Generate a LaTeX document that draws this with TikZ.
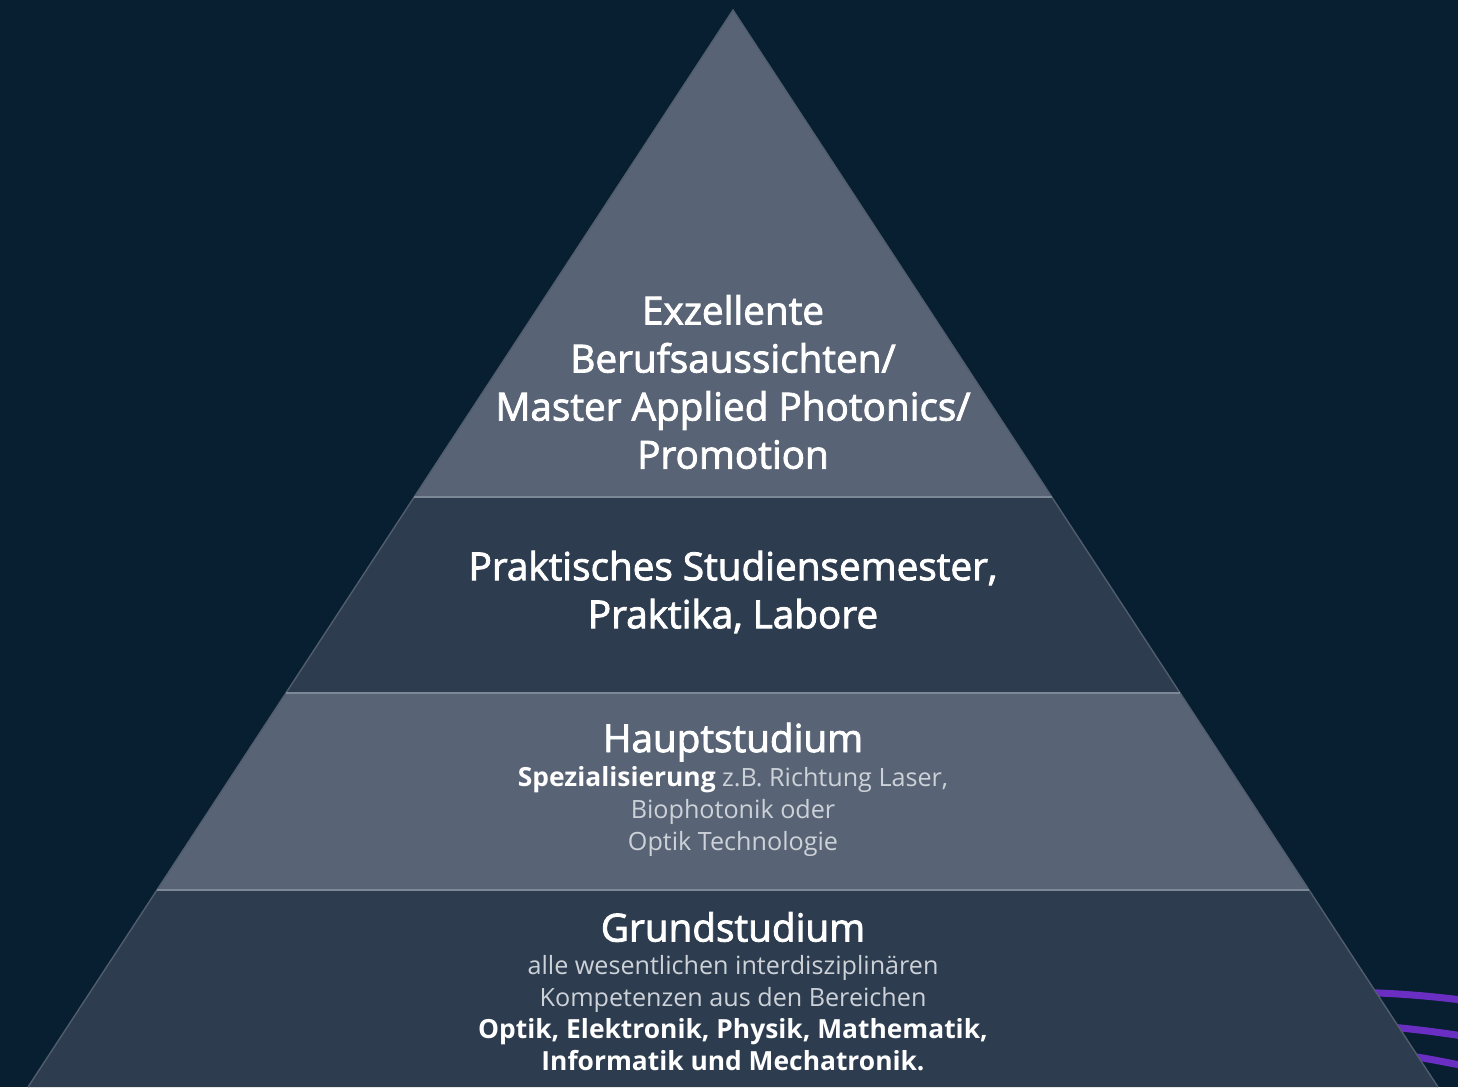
\documentclass[tikz,border=0pt]{standalone}
\usepackage{fontspec}
\setmainfont{Open Sans}
\newfontfamily\semib[FakeBold=2.2]{Open Sans}
\definecolor{bg}{HTML}{081E31}
\definecolor{bandlight}{HTML}{586475}
\definecolor{banddark}{HTML}{2D3C4E}
\definecolor{sepline}{HTML}{7D8896}
\definecolor{edgeline}{HTML}{4F5D6D}
\definecolor{lighttext}{HTML}{CDD2D9}
\definecolor{wave}{HTML}{6A2FC2}
\tikzset{
  band/.style={draw=none},
  head/.style={text=white, font=\semib\fontsize{11}{13.66}\selectfont, align=center, inner sep=0pt},
  bodytext/.style={text=lighttext, font=\fontsize{7.15}{9.1}\selectfont, align=center, inner sep=0pt},
  emph/.style={},
  waveline/.style={wave, line width=2pt},
  sep/.style={sepline, line width=0.4pt}
}
\newcommand{\strongtxt}[1]{{\fontsize{7.5}{9.1}\selectfont\bfseries\color{white}#1}}
\begin{document}
\begin{tikzpicture}[x=0.01cm, y=-0.01cm]
\useasboundingbox (0,0) rectangle (1458,1087);
\fill[bg] (0,0) rectangle (1458,1087);
% purple waves behind pyramid
\draw[waveline] (1330,992) .. controls (1390,992) and (1430,996) .. (1470,1001);
\draw[waveline] (1360,1025) .. controls (1400,1027) and (1430,1031) .. (1470,1037);
\draw[waveline] (1380,1052) .. controls (1410,1055) and (1440,1061) .. (1470,1067);
% bands
\fill[bandlight] (733,10) -- (1052,497) -- (414,497) -- cycle;
\fill[banddark] (414,497) -- (1052,497) -- (1180,693) -- (286,693) -- cycle;
\fill[bandlight] (286,693) -- (1180,693) -- (1309,890) -- (157,890) -- cycle;
\fill[banddark] (157,890) -- (1309,890) -- (1438,1087) -- (28,1087) -- cycle;
\draw[edgeline, line width=0.4pt] (28,1087) -- (733,10) -- (1438,1087);
\draw[sep] (414,497) -- (1052,497);
\draw[sep] (286,693) -- (1180,693);
\draw[sep] (157,890) -- (1309,890);
% texts
\node[head] (top) at (733,382) {Exzellente\\Berufsaussichten/\\Master Applied Photonics/\\Promotion};
\node[head] (prak) at (733,592) {Praktisches Studiensemester,\\Praktika, Labore};
\node[head] (haupt) at (733,742) {Hauptstudium};
\node[bodytext] (hauptbody) at (733,811) {\strongtxt{Spezialisierung} z.B. Richtung Laser,\\Biophotonik oder\\Optik Technologie};
\node[head] (grund) at (733,927) {Grundstudium};
\node[bodytext] (grundbody) at (733,1013) {alle wesentlichen interdisziplinären\\Kompetenzen aus den Bereichen\\\strongtxt{Optik, Elektronik, Physik, Mathematik,}\\\strongtxt{Informatik und Mechatronik.}};
\end{tikzpicture}
\end{document}
